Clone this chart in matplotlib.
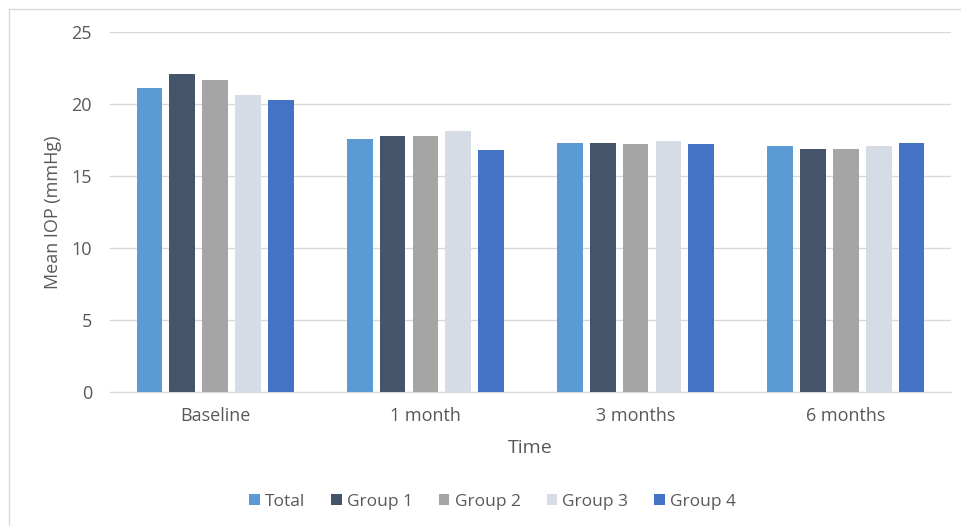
import numpy as np
import matplotlib.pyplot as plt

plt.rcParams['font.family'] = ['Open Sans', 'DejaVu Sans']

# Data
categories = ['Baseline', '1 month', '3 months', '6 months']
series_names = ['Total', 'Group 1', 'Group 2', 'Group 3', 'Group 4']
total = [21.1, 17.6, 17.3, 17.05]
group1 = [22.1, 17.8, 17.3, 16.85]
group2 = [21.65, 17.75, 17.2, 16.9]
group3 = [20.65, 18.1, 17.4, 17.1]
group4 = [20.3, 16.8, 17.2, 17.3]
colors = ['#5B9BD5', '#44546A', '#A5A5A5', '#D6DCE5', '#4472C4']
y_ticks = [0, 5, 10, 15, 20, 25]

values = [total, group1, group2, group3, group4]

fig = plt.figure(figsize=(9.62, 5.26), dpi=100)
ax = fig.add_axes([0.1143, 0.2548, 0.8743, 0.6844])

x = np.arange(len(categories))
width = 0.122
step = 0.156
for i, (name, vals, c) in enumerate(zip(series_names, values, colors)):
    ax.bar(x + (i - 2) * step, vals, width, color=c, label=name, zorder=3)

ax.set_xlim(-0.5, len(categories) - 0.5)
ax.set_ylim(0, 25)
ax.set_yticks(y_ticks)
ax.set_xticks(x)
ax.set_xticklabels(categories)
ax.yaxis.grid(True, color='#D9D9D9', linewidth=1, zorder=0)
for s in ['top', 'right', 'left']:
    ax.spines[s].set_visible(False)
ax.spines['bottom'].set_color('#D9D9D9')
ax.tick_params(axis='both', length=0, labelsize=13, colors='#595959')
ax.tick_params(axis='y', pad=13)
ax.tick_params(axis='x', pad=11)

ax.set_xlabel('Time', fontsize=14, color='#595959', labelpad=10)
ax.set_ylabel('Mean IOP (mmHg)', fontsize=13, color='#595959', labelpad=7)

ax.legend(loc='upper center', bbox_to_anchor=(0.455, -0.24), ncol=5,
          frameon=False, fontsize=12.5, handlelength=0.6, handleheight=0.6,
          handletextpad=0.3, columnspacing=1.5, labelcolor='#595959')

# chart frame (left and top edges visible)
fig.add_artist(plt.Line2D([9 / 962, 9 / 962], [0, 1 - 9 / 526], color='#D9D9D9', lw=1))
fig.add_artist(plt.Line2D([9 / 962, 1], [1 - 9 / 526, 1 - 9 / 526], color='#D9D9D9', lw=1))

fig.savefig('out.png', dpi=100)
